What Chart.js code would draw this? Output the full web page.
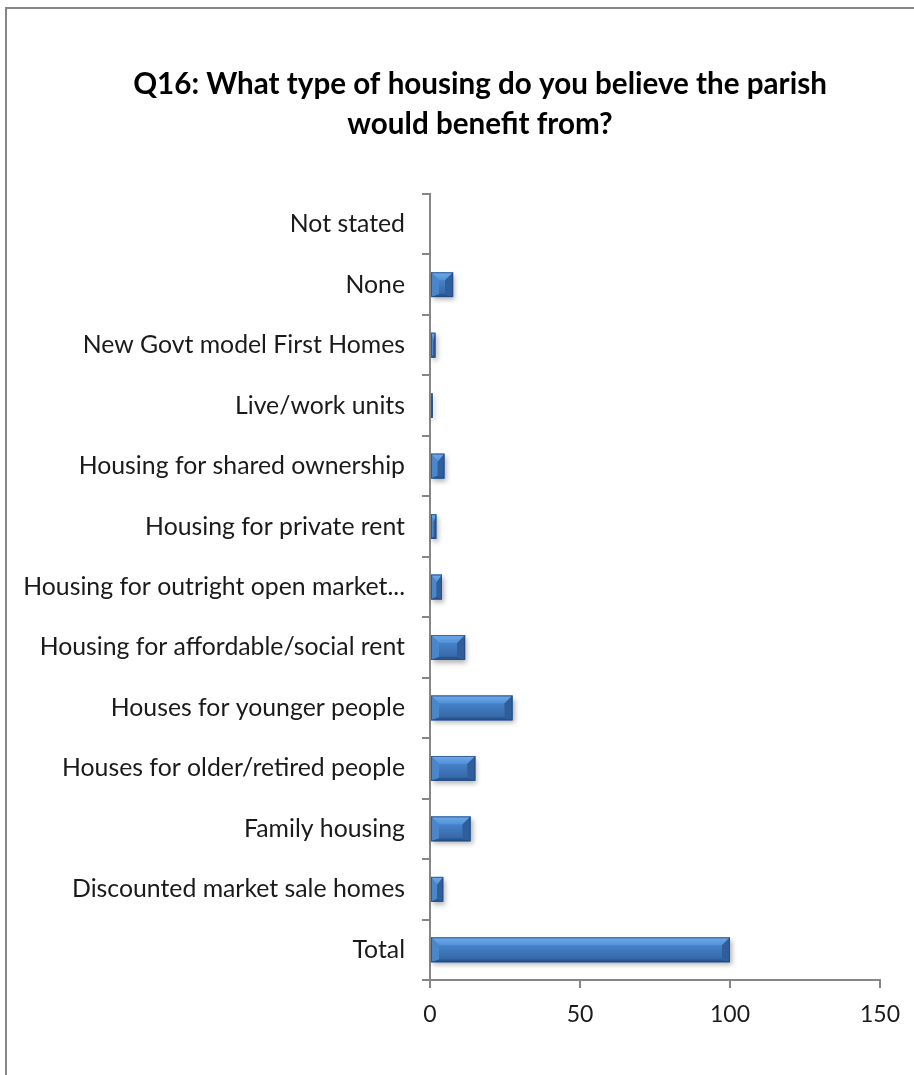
<!DOCTYPE html>
<html lang="en">
<head>
  <meta charset="UTF-8">
  <title>Q16 Housing</title>
  <script src="https://cdn.jsdelivr.net/npm/chart.js"></script>
  <style>
    body {
      margin: 0;
      background: #fff;
    }
    #wrap {
      width: 914px;
      height: 1075px;
    }
  </style>
</head>
<body>
  <div id="wrap"><canvas id="housingChart"></canvas></div>

  <script>
    // Survey answers, top to bottom as they appear on the axis
    const categories = [
      'Not stated',
      'None',
      'New Govt model First Homes',
      'Live/work units',
      'Housing for shared ownership',
      'Housing for private rent',
      'Housing for outright open market...',
      'Housing for affordable/social rent',
      'Houses for younger people',
      'Houses for older/retired people',
      'Family housing',
      'Discounted market sale homes',
      'Total'
    ];
    const responses = [0, 7.7, 1.8, 0.9, 4.8, 2.1, 4.0, 11.7, 27.5, 15.1, 13.5, 4.4, 100];
    const xTicks = [0, 50, 100, 150];

    const titleLines = ['Q16: What type of housing do you believe the parish', 'would benefit from?'];
    const fontFamily = 'Lato, "Open Sans", sans-serif';
    const axisGrey = '#868686';

    // Grey frame around the whole chart
    const framePlugin = {
      id: 'frame',
      beforeDraw(chart) {
        const ctx = chart.ctx;
        ctx.save();
        ctx.strokeStyle = axisGrey;
        ctx.lineWidth = 2;
        ctx.strokeRect(6, 8, 1200, 1400);
        ctx.restore();
      }
    };

    // Nudge the title block right so it sits centred over x = 480
    const titleShift = {
      id: 'titleShift',
      afterLayout(chart) {
        const t = chart.titleBlock;
        if (t) {
          t.left += 35;
          t.right += 35;
        }
      }
    };

    // Bar rectangles as laid out by the chart
    function barBoxes(chart) {
      const meta = chart.getDatasetMeta(0);
      return meta.data.map(el => {
        const p = el.getProps(['x', 'y', 'base', 'height'], true);
        return {
          x0: Math.min(p.base, p.x),
          x1: Math.max(p.base, p.x),
          y0: p.y - p.height / 2,
          y1: p.y + p.height / 2
        };
      });
    }

    // Drop shadow under each bar, then bevel facets over it
    const bevelPlugin = {
      id: 'bevel',
      beforeDatasetsDraw(chart) {
        const ctx = chart.ctx;
        ctx.save();
        barBoxes(chart).forEach(b => {
          if (b.x1 - b.x0 < 0.5) return;
          ctx.shadowColor = 'rgba(0,0,0,0.3)';
          ctx.shadowBlur = 5;
          ctx.shadowOffsetX = 2;
          ctx.shadowOffsetY = 3;
          ctx.fillStyle = '#3f76ba';
          ctx.fillRect(b.x0, b.y0, b.x1 - b.x0, b.y1 - b.y0);
        });
        ctx.restore();
      },
      afterDatasetsDraw(chart) {
        const ctx = chart.ctx;
        ctx.save();
        barBoxes(chart).forEach(b => {
          const w = b.x1 - b.x0;
          if (w < 0.5) return;
          const h = b.y1 - b.y0;
          const ds = Math.min(8, w / 2);
          const dt = Math.min(8, h / 2);
          const db = Math.min(3, h / 2);
          const { x0, x1, y0, y1 } = b;

          const face = (pts, color) => {
            ctx.beginPath();
            ctx.moveTo(pts[0][0], pts[0][1]);
            for (let i = 1; i < pts.length; i++) ctx.lineTo(pts[i][0], pts[i][1]);
            ctx.closePath();
            ctx.fillStyle = color;
            ctx.fill();
          };

          // front face
          const g = ctx.createLinearGradient(0, y0 + dt, 0, y1 - db);
          g.addColorStop(0, '#4681c8');
          g.addColorStop(1, '#3668a8');
          face([[x0 + ds, y0 + dt], [x1 - ds, y0 + dt], [x1 - ds, y1 - db], [x0 + ds, y1 - db]], g);
          // top
          const gt = ctx.createLinearGradient(0, y0, 0, y0 + dt);
          gt.addColorStop(0, '#6eaaea');
          gt.addColorStop(1, '#5290d8');
          face([[x0, y0], [x1, y0], [x1 - ds, y0 + dt], [x0 + ds, y0 + dt]], gt);
          // bottom
          face([[x0, y1], [x1, y1], [x1 - ds, y1 - db], [x0 + ds, y1 - db]], '#2a5690');
          // left / right
          face([[x0, y0], [x0 + ds, y0 + dt], [x0 + ds, y1 - db], [x0, y1]], '#4a86cc');
          face([[x1, y0], [x1 - ds, y0 + dt], [x1 - ds, y1 - db], [x1, y1]], '#2f5e9a');

          ctx.strokeStyle = 'rgba(35,70,120,0.7)';
          ctx.lineWidth = 1;
          ctx.strokeRect(x0 + 0.5, y0 + 0.5, w - 1, h - 1);
        });
        ctx.restore();
      }
    };

    const ctx = document.getElementById('housingChart').getContext('2d');
    new Chart(ctx, {
      type: 'bar',
      data: {
        labels: categories,
        datasets: [{
          data: responses,
          backgroundColor: '#3f76ba',
          borderWidth: 0,
          categoryPercentage: 1,
          barPercentage: 0.41
        }]
      },
      plugins: [framePlugin, titleShift, bevelPlugin],
      options: {
        indexAxis: 'y',
        responsive: true,
        maintainAspectRatio: false,
        animation: false,
        layout: {
          padding: { left: 10, right: 34, top: 0, bottom: 45 }
        },
        plugins: {
          legend: { display: false },
          tooltip: { enabled: false },
          title: {
            display: true,
            text: titleLines,
            color: '#000',
            font: { family: fontFamily, size: 29.6, weight: 'bold', lineHeight: 40 / 29.6 },
            padding: { top: 64, bottom: 50 }
          }
        },
        scales: {
          x: {
            min: 0,
            max: 150,
            afterBuildTicks(scale) {
              scale.ticks = xTicks.map(v => ({ value: v }));
            },
            afterFit(scale) {
              scale.height = 50;
            },
            grid: {
              drawOnChartArea: false,
              drawTicks: true,
              tickLength: 8,
              color: axisGrey,
              lineWidth: 2
            },
            border: { color: axisGrey, width: 2 },
            ticks: {
              color: '#1a1a1a',
              padding: 13,
              font: { family: fontFamily, size: 23 }
            }
          },
          y: {
            afterFit(scale) {
              scale.width = 420;
            },
            grid: {
              offset: true,
              drawOnChartArea: false,
              drawTicks: true,
              tickLength: 8,
              color: axisGrey,
              lineWidth: 2
            },
            border: { color: axisGrey, width: 2 },
            ticks: {
              color: '#1a1a1a',
              padding: 17,
              autoSkip: false,
              font: { family: fontFamily, size: 24.8 }
            }
          }
        }
      }
    });
  </script>
</body>
</html>
